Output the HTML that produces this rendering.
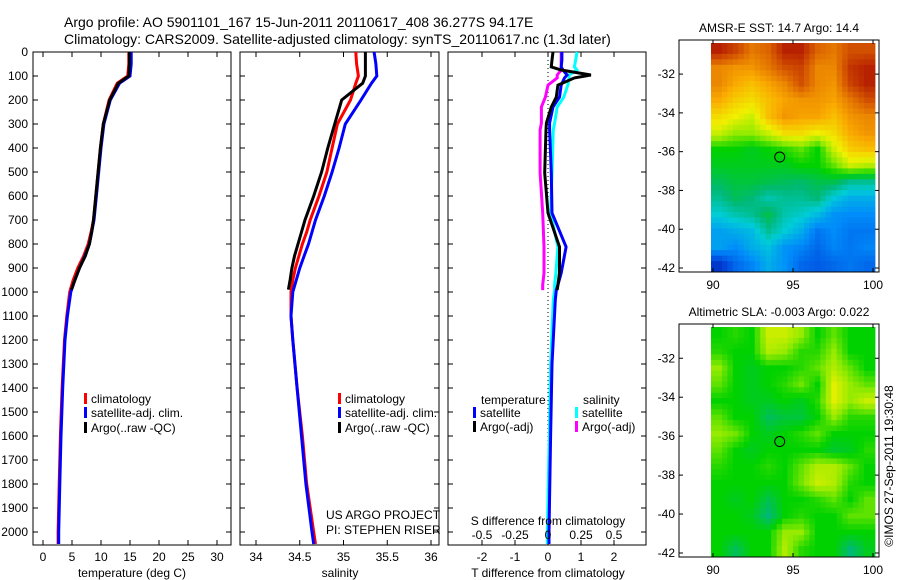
<!DOCTYPE html>
<html><head><meta charset="utf-8"><style>
body{margin:0;background:#fff;}
svg{display:block;font-family:"Liberation Sans",sans-serif;}
</style></head><body>
<svg id="fig" width="900" height="580" viewBox="0 0 900 580" xmlns="http://www.w3.org/2000/svg">
<rect width="900" height="580" fill="#fff"/>
<text x="64" y="27" font-size="14">Argo profile: AO 5901101_167 15-Jun-2011 20110617_408 36.277S 94.17E</text>
<text x="64" y="44" font-size="14">Climatology: CARS2009. Satellite-adjusted climatology: synTS_20110617.nc (1.3d later)</text>
<g id="g"></g>
</svg>
<script>
// ---- data ----
const tempDepth = [0,50,100,130,200,300,400,500,600,700,750,800,850,900,950,1000,1100,1200,1400,1600,1800,2000,2050];
const tempClim  = [14.8,14.8,14.6,12.8,11.4,10.4,9.9,9.5,9.1,8.7,8.3,7.8,7.0,6.0,5.2,4.6,4.1,3.7,3.3,3.0,2.8,2.6,2.6];
const tempSat   = [15.2,15.2,15.0,13.2,11.6,10.5,10.0,9.6,9.2,8.8,8.4,8.0,7.2,6.3,5.5,4.8,4.2,3.8,3.4,3.1,2.9,2.7,2.7];
const argoDepth = [0,50,100,130,200,300,400,500,600,700,750,800,850,900,950,990];
const tempArgo  = [14.9,14.9,14.8,13.0,11.5,10.4,9.9,9.5,9.1,8.7,8.4,8.0,7.3,6.3,5.5,4.9];
const salClim   = [35.14,35.15,35.17,35.14,35.08,34.93,34.87,34.81,34.72,34.62,34.58,34.53,34.49,34.45,34.42,34.40,34.40,34.42,34.47,34.53,34.58,34.66,34.68];
const salSat    = [35.35,35.37,35.38,35.32,35.2,35.02,34.95,34.87,34.78,34.68,34.64,34.6,34.55,34.5,34.46,34.42,34.40,34.42,34.47,34.52,34.57,34.64,34.66];
const salArgo   = [35.25,35.25,35.25,35.22,34.98,34.90,34.82,34.75,34.66,34.56,34.52,34.48,34.44,34.41,34.39,34.37];
const diffDepth = [0,33,62,75,96,108,138,188,229,296,325,504,671,812,921,971,992,1033,1300,1600,2000,2050];
const dTsat  = [0.42,0.42,0.40,0.45,0.58,0.50,0.40,0.35,0.15,0.05,0.05,0.10,0.12,0.55,0.40,0.30,0.25,0.22,0.12,0.08,0.03,0.03];
const dSsat  = [0.22,0.21,0.20,0.22,0.16,0.16,0.15,0.12,0.07,0.05,0.04,0.03,0.02,0.075,0.06,0.05,0.05,0.04,0.02,0.01,-0.005,-0.005];
const argoDiffDepth = [0,33,62,75,96,108,138,188,229,296,325,504,671,812,921,971,992];
const dTargo = [0.15,0.12,0.10,0.40,1.30,0.80,0.30,0.25,0.10,-0.05,-0.06,-0.10,0.00,0.35,0.35,0.30,0.28];
const dSargo = [0.10,0.10,0.10,0.10,0.07,0.07,0.00,-0.02,-0.05,-0.05,-0.06,-0.06,-0.04,-0.03,-0.03,-0.04,-0.04];
const depthTicks = [0,100,200,300,400,500,600,700,800,900,1000,1100,1200,1300,1400,1500,1600,1700,1800,1900,2000];
const tempTicks = [0,5,10,15,20,25,30];
const salTicks = [34,34.5,35,35.5,36];
const salTickLabels = ["34","34.5","35","35.5","36"];
const tdTicks = [-2,-1,0,1,2];
const sdTicks = [-0.5,-0.25,0,0.25,0.5];
const sdTickLabels = ["-0.5","-0.25","0","0.25","0.5"];
const latTicks = [-32,-34,-36,-38,-40,-42];
const lonTicks = [90,95,100];
const sstGrid = [
[0.95,0.9,0.82,0.85,0.95,0.95,0.85,0.82,0.88,0.88],
[0.8,0.78,0.78,0.82,0.88,0.9,0.8,0.8,0.92,0.95],
[0.8,0.75,0.72,0.76,0.8,0.88,0.8,0.78,0.9,0.95],
[0.75,0.7,0.68,0.72,0.76,0.78,0.78,0.76,0.82,0.88],
[0.68,0.65,0.62,0.72,0.78,0.76,0.76,0.72,0.78,0.8],
[0.62,0.58,0.58,0.62,0.68,0.68,0.65,0.68,0.75,0.78],
[0.5,0.5,0.48,0.5,0.52,0.55,0.5,0.62,0.7,0.72],
[0.48,0.48,0.48,0.48,0.48,0.5,0.5,0.55,0.62,0.6],
[0.44,0.46,0.46,0.45,0.44,0.43,0.45,0.45,0.4,0.4],
[0.4,0.44,0.42,0.38,0.4,0.4,0.42,0.34,0.3,0.3],
[0.35,0.38,0.4,0.45,0.38,0.36,0.32,0.26,0.25,0.25],
[0.28,0.3,0.32,0.4,0.35,0.3,0.22,0.25,0.22,0.22],
[0.28,0.25,0.3,0.33,0.26,0.24,0.2,0.24,0.22,0.24],
[0.12,0.2,0.24,0.3,0.26,0.2,0.18,0.2,0.22,0.2]];
const slaGrid = [
[0.5,0.52,0.5,0.62,0.62,0.58,0.5,0.55,0.5,0.5],
[0.52,0.5,0.5,0.6,0.58,0.52,0.52,0.58,0.5,0.5],
[0.58,0.5,0.48,0.5,0.5,0.52,0.55,0.6,0.55,0.5],
[0.55,0.5,0.48,0.5,0.52,0.56,0.5,0.64,0.58,0.55],
[0.5,0.5,0.48,0.48,0.5,0.48,0.52,0.64,0.58,0.62],
[0.55,0.5,0.5,0.44,0.46,0.46,0.5,0.58,0.52,0.52],
[0.58,0.56,0.5,0.48,0.5,0.52,0.55,0.5,0.5,0.5],
[0.55,0.5,0.48,0.5,0.5,0.5,0.5,0.47,0.48,0.52],
[0.52,0.5,0.5,0.52,0.5,0.55,0.6,0.6,0.55,0.5],
[0.5,0.5,0.5,0.5,0.5,0.56,0.62,0.6,0.52,0.5],
[0.5,0.48,0.5,0.45,0.5,0.5,0.52,0.55,0.5,0.55],
[0.5,0.5,0.48,0.42,0.5,0.52,0.5,0.5,0.55,0.55],
[0.5,0.5,0.5,0.5,0.58,0.58,0.5,0.5,0.5,0.5],
[0.5,0.44,0.5,0.5,0.6,0.52,0.5,0.5,0.42,0.48]];
const argoLon = 94.17, argoLat = -36.277;

// ---- helpers ----
const NS="http://www.w3.org/2000/svg";
const G=document.getElementById('g');
function mk(tag,attrs,parent){const e=document.createElementNS(NS,tag);for(const k in attrs)e.setAttribute(k,attrs[k]);(parent||G).appendChild(e);return e;}
function txt(x,y,s,size,anchor,parent){const t=mk('text',{x:x,y:y,'font-size':size,'text-anchor':anchor||'start'},parent);t.textContent=s;return t;}
const yD = d => 52 + d*0.24;
const PT=52, PB=545;
const xT = v => 43 + v*5.8;
const xS = v => 256 + (v-34)*87.5;
const xTd = v => 548 + v*33;
const xSd = v => 548 + v*132;

function box(x0,x1,y0,y1,name){
  const r=mk('rect',{x:x0,y:y0,width:x1-x0,height:y1-y0,fill:'none',stroke:'#000','stroke-width':1});
  
  
}
function line(pts,color,name){
  const p=mk('polyline',{points:pts.map(q=>q[0].toFixed(1)+','+q[1].toFixed(1)).join(' '),fill:'none',stroke:color,'stroke-width':3,'stroke-linejoin':'miter'});
  
  
}
function xTicks(x0,x1,vals,fx,labels,y0,y1,labelY){
  vals.forEach((v,i)=>{const x=fx(v);
    mk('line',{x1:x,x2:x,y1:y1,y2:y1-5,stroke:'#000'});
    mk('line',{x1:x,x2:x,y1:y0,y2:y0+5,stroke:'#000'});
    if(labels){const t=txt(x,labelY,labels[i],12,'middle');
      
      }
  });
}
function yTicks(x0,x1,ticks,labels){
  ticks.forEach(d=>{const y=yD(d);
    mk('line',{x1:x0,x2:x0+5,y1:y,y2:y,stroke:'#000'});
    mk('line',{x1:x1,x2:x1-5,y1:y,y2:y,stroke:'#000'});
    if(labels){const t=txt(x0-5,y+4,String(d),12,'end');
      
      }
  });
}
function legend(x,y,color,label){
  mk('rect',{x:x,y:y-6,width:3,height:11,fill:color});
  const t=txt(x+7,y+4,label,12);
  
  
}

// ---- panel 1: temperature ----
box(33,231,PT,PB,'temperature-panel');
yTicks(33,231,depthTicks,true);
xTicks(33,231,tempTicks,xT,tempTicks.map(String),PT,PB,561);
line(tempDepth.map((d,i)=>[xT(tempClim[i]),yD(d)]),'#f00','temp-climatology-line');
line(tempDepth.map((d,i)=>[xT(tempSat[i]),yD(d)]),'#00f','temp-satellite-line');
line(argoDepth.map((d,i)=>[xT(tempArgo[i]),yD(d)]),'#000','temp-argo-line');
txt(132,577,'temperature (deg C)',12,'middle');
legend(84,399,'#f00','climatology');
legend(84,413,'#00f','satellite-adj. clim.');
legend(84,428,'#000','Argo(..raw -QC)');

// ---- panel 2: salinity ----
box(240,439,PT,PB,'salinity-panel');
yTicks(240,439,depthTicks,false);
xTicks(240,439,salTicks,xS,salTickLabels,PT,PB,561);
line(tempDepth.map((d,i)=>[xS(salClim[i]),yD(d)]),'#f00','sal-climatology-line');
line(tempDepth.map((d,i)=>[xS(salSat[i]),yD(d)]),'#00f','sal-satellite-line');
line(argoDepth.map((d,i)=>[xS(salArgo[i]),yD(d)]),'#000','sal-argo-line');
txt(340,577,'salinity',12,'middle');
legend(338,399,'#f00','climatology');
legend(338,413,'#00f','satellite-adj. clim.');
legend(338,428,'#000','Argo(..raw -QC)');
txt(326,519,'US ARGO PROJECT',12);
txt(326,534,'PI: STEPHEN RISER',12);

// ---- panel 3: differences ----
box(448,646,PT,PB,'difference-panel');
yTicks(448,646,depthTicks,false);
xTicks(448,646,tdTicks,xTd,tdTicks.map(String),PT,PB,561);
mk('line',{x1:548,x2:548,y1:PT,y2:PB,stroke:'#000','stroke-dasharray':'1,3'});
line(diffDepth.map((d,i)=>[xSd(dSsat[i]),yD(d)]),'#0ff','sal-diff-satellite-line');
line(argoDiffDepth.map((d,i)=>[xSd(dSargo[i]),yD(d)]),'#f0f','sal-diff-argo-line');
line(diffDepth.map((d,i)=>[xTd(dTsat[i]),yD(d)]),'#00f','temp-diff-satellite-line');
line(argoDiffDepth.map((d,i)=>[xTd(dTargo[i]),yD(d)]),'#000','temp-diff-argo-line');
txt(481,404,'temperature',12);
txt(583,404,'salinity',12);
legend(473,413,'#00f','satellite');
legend(473,427,'#000','Argo(-adj)');
legend(575,413,'#0ff','satellite');
legend(575,427,'#f0f','Argo(-adj)');
txt(548,525,'S difference from climatology',12,'middle');
sdTicks.forEach((v,i)=>{const t=txt(xSd(v),539,sdTickLabels[i],12,'middle');
  
  });
txt(548,577,'T difference from climatology',12,'middle');

// ---- maps ----
const cmapStops=[[0,[0,0,130]],[0.15,[0,70,220]],[0.25,[0,140,250]],[0.35,[0,205,215]],[0.42,[0,185,120]],[0.5,[0,210,0]],[0.58,[150,235,0]],[0.65,[240,240,0]],[0.75,[250,170,0]],[0.85,[220,100,0]],[1,[165,0,0]]];
function cmap(v){
  v=Math.max(0,Math.min(1,v));
  for(let i=1;i<cmapStops.length;i++){
    if(v<=cmapStops[i][0]){const a=cmapStops[i-1],b=cmapStops[i];const t=(v-a[0])/(b[0]-a[0]);
      const c=a[1].map((x,k)=>Math.round(x+(b[1][k]-x)*t));return 'rgb('+c.join(',')+')';}
  }
  return 'rgb(165,0,0)';
}
function sample(grid,r,c){
  const R=grid.length,C=grid[0].length;
  r=Math.max(0,Math.min(R-1,r));c=Math.max(0,Math.min(C-1,c));
  const r0=Math.floor(r),c0=Math.floor(c),r1=Math.min(R-1,r0+1),c1=Math.min(C-1,c0+1);
  const fr=r-r0,fc=c-c0;
  return grid[r0][c0]*(1-fr)*(1-fc)+grid[r0][c1]*(1-fr)*fc+grid[r1][c0]*fr*(1-fc)+grid[r1][c1]*fr*fc;
}
function map(y0,y1,dataTop,dataBot,grid,title,name){
  const lon = v => 713 + (v-90)*16;
  const lat0 = y0 + (y1-y0)*0.147;
  const latScale = (dataBot - lat0 - 4)/10;
  const lat = v => lat0 + (-32 - v)*latScale;
  const rows=grid.length, cols=grid[0].length, S=3;
  const cw=(875-711)/(cols*S), ch=(dataBot-dataTop)/(rows*S);
  for(let r=0;r<rows*S;r++)for(let c=0;c<cols*S;c++){
    const v=sample(grid,(r+0.5)/S-0.5,(c+0.5)/S-0.5);
    const cell=mk('rect',{x:(711+c*cw).toFixed(2),y:(dataTop+r*ch).toFixed(2),width:(cw+0.4).toFixed(2),height:(ch+0.4).toFixed(2),fill:cmap(v)});
    
    
  }
  box(679,879,y0,y1,name);
  latTicks.forEach(v=>{const y=lat(v);
    mk('line',{x1:679,x2:683,y1:y,y2:y,stroke:'#000'});
    mk('line',{x1:879,x2:875,y1:y,y2:y,stroke:'#000'});
    txt(675,y+4,String(v),12,'end');});
  lonTicks.forEach(v=>{const x=lon(v);
    mk('line',{x1:x,x2:x,y1:y1,y2:y1-4,stroke:'#000'});
    mk('line',{x1:x,x2:x,y1:y0,y2:y0+4,stroke:'#000'});
    txt(x,y1+17,String(v),12,'middle');});
  const c=mk('circle',{cx:lon(argoLon),cy:lat(argoLat),r:5,fill:'none',stroke:'#000','stroke-width':1});
  
  
  const t=txt(779,y0-8,title,12,'middle');
  
  
}
map(40,272,43,272,sstGrid,'AMSR-E SST: 14.7 Argo: 14.4','sst-map');
map(324,557,327,557,slaGrid,'Altimetric SLA: -0.003 Argo: 0.022','sla-map');
const cr=txt(0,0,'\u00A9IMOS 27-Sep-2011 19:30:48',12,'middle');
cr.setAttribute('transform','translate(893,466) rotate(-90)');


</script>
</body></html>
